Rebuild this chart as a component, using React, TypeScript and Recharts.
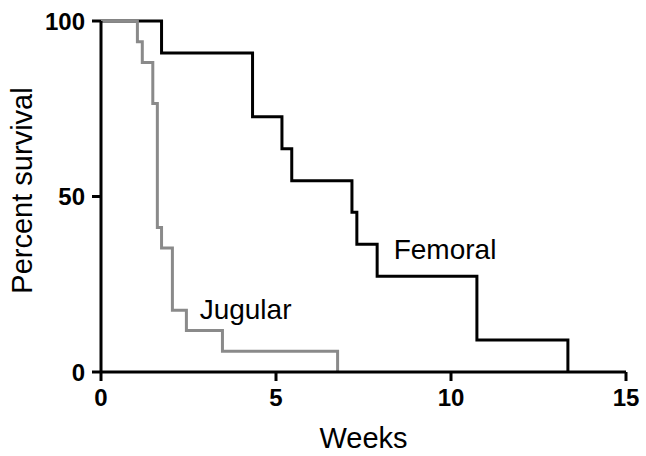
import React from 'react';
import { LineChart, Line, XAxis, YAxis, ReferenceDot, Label } from 'recharts';

// Kaplan-Meier steps: time in weeks, percent surviving from that time on
const femoralWeeks = [0, 1.73, 4.33, 5.17, 5.45, 7.17, 7.31, 7.89, 10.74, 13.34];
const femoralSurvival = [100, 90.9, 72.7, 63.6, 54.5, 45.5, 36.4, 27.3, 9.1, 0];

const jugularWeeks = [0, 1.04, 1.18, 1.48, 1.61, 1.73, 2.04, 2.44, 3.47, 6.76];
const jugularSurvival = [100, 94.1, 88.2, 76.5, 41.2, 35.3, 17.6, 11.8, 5.9, 0];

const xTicks = [0, 5, 10, 15];
const yTicks = [0, 50, 100];

const seriesLabels = [
    { name: 'Femoral', x: 9.83, y: 35 },
    { name: 'Jugular', x: 4.13, y: 18 }
];

const toSteps = (weeks: number[], survival: number[]) =>
    weeks.map((week, i) => ({ week, survival: survival[i] }));

const femoralData = toSteps(femoralWeeks, femoralSurvival);
const jugularData = toSteps(jugularWeeks, jugularSurvival);

const font = '"Liberation Sans", Arial, sans-serif';
const tickStyle = { fill: '#000', fontSize: 24, fontWeight: 700, fontFamily: font };
const titleStyle = { fill: '#000', fontSize: 29, fontFamily: font };

// y title drawn by hand so it can sit a little above the plot's middle
const YTitle = (props: any) => {
    const { viewBox } = props;
    const x = 32;
    const y = viewBox.y + viewBox.height / 2 - 6;
    return (
        <text
            x={x}
            y={y}
            transform={`rotate(-90 ${x} ${y})`}
            textAnchor="middle"
            style={titleStyle}
        >
            Percent survival
        </text>
    );
};

const App = () => {
    return (
        <div style={{ position: 'absolute', left: 0, top: 0, background: '#fff' }}>
            <LineChart
                width={646}
                height={456}
                margin={{ top: 21, right: 20, left: 0, bottom: 0 }}
            >
                <XAxis
                    dataKey="week"
                    type="number"
                    domain={[0, 15]}
                    ticks={xTicks}
                    height={84}
                    tick={tickStyle}
                    tickSize={9}
                    tickMargin={8}
                    axisLine={{ stroke: '#000', strokeWidth: 3 }}
                    tickLine={{ stroke: '#000', strokeWidth: 3 }}
                >
                    <Label value="Weeks" position="insideBottom" offset={8} style={titleStyle} />
                </XAxis>
                <YAxis
                    dataKey="survival"
                    type="number"
                    domain={[0, 100]}
                    ticks={yTicks}
                    width={101}
                    tick={tickStyle}
                    tickSize={9}
                    tickMargin={7}
                    axisLine={{ stroke: '#000', strokeWidth: 3 }}
                    tickLine={{ stroke: '#000', strokeWidth: 3 }}
                >
                    <Label content={YTitle} />
                </YAxis>

                <Line
                    data={femoralData}
                    dataKey="survival"
                    type="stepAfter"
                    stroke="#000"
                    strokeWidth={3}
                    dot={false}
                    isAnimationActive={false}
                />
                <Line
                    data={jugularData}
                    dataKey="survival"
                    type="stepAfter"
                    stroke="#8a8a8a"
                    strokeWidth={3}
                    dot={false}
                    isAnimationActive={false}
                />

                {seriesLabels.map(item => (
                    <ReferenceDot
                        key={item.name}
                        x={item.x}
                        y={item.y}
                        r={0}
                        fill="none"
                        stroke="none"
                        label={{
                            value: item.name,
                            position: 'center',
                            fill: '#000',
                            fontSize: 28,
                            fontFamily: font
                        }}
                    />
                ))}
            </LineChart>
        </div>
    );
};

export default App;
